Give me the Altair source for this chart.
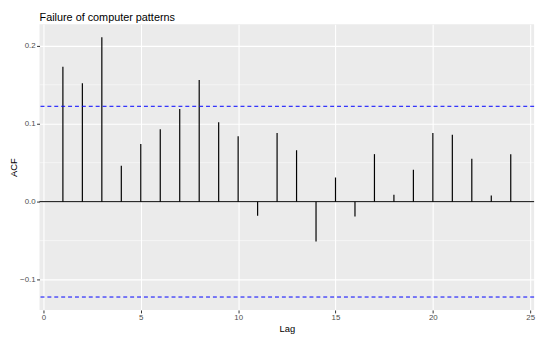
import altair as alt
import pandas as pd

lags = list(range(1, 25))
acf = [0.173, 0.152, 0.211, 0.046, 0.074, 0.093, 0.119, 0.156, 0.102, 0.084,
       -0.018, 0.088, 0.066, -0.051, 0.031, -0.019, 0.061, 0.009, 0.041, 0.088,
       0.086, 0.055, 0.008, 0.061]
ci = 0.1224
x_ticks = [0, 5, 10, 15, 20, 25]
y_ticks = [-0.1, 0.0, 0.1, 0.2]
y_minor = [-0.05, 0.05, 0.15]

FONT = "Liberation Sans"

df = pd.DataFrame({"lag": lags, "v": acf})
xs = alt.Scale(domain=[-0.2, 25.2], nice=False, zero=False)
ys = alt.Scale(domain=[-0.139, 0.2277], nice=False, zero=False)

axis_common = dict(
    grid=True, gridColor="white", gridWidth=1.1, domain=False,
    tickColor="#333333", tickSize=3, tickWidth=1,
    labelColor="#4D4D4D", labelFontSize=8, labelFont=FONT,
    titleFont=FONT, titleFontSize=9.5, titleFontWeight="normal", titleColor="black",
)
yaxis = alt.Axis(values=y_ticks, title="ACF", labelPadding=1.5,
                 titlePadding=1, format=".1f", **axis_common)
xaxis = alt.Axis(values=x_ticks, title="Lag", labelPadding=1,
                 titlePadding=2, format="d", **axis_common)

minor = alt.Chart(pd.DataFrame({"v": y_minor})).mark_rule(
    color="white", strokeWidth=0.5
).encode(y=alt.Y("v:Q", scale=ys, axis=yaxis))

bars = alt.Chart(df).mark_rule(color="black", strokeWidth=1.2).encode(
    x=alt.X("lag:Q", scale=xs, axis=xaxis),
    y=alt.Y("v:Q", scale=ys, axis=yaxis),
    y2=alt.datum(0),
)

zero = alt.Chart(pd.DataFrame({"v": [0.0]})).mark_rule(
    color="black", strokeWidth=1
).encode(y=alt.Y("v:Q", scale=ys, axis=yaxis))

cis = alt.Chart(pd.DataFrame({"v": [ci, -ci]})).mark_rule(
    color="#0000FF", strokeWidth=1, strokeDash=[4, 3]
).encode(y=alt.Y("v:Q", scale=ys, axis=yaxis))

chart = alt.layer(minor, bars, zero, cis).properties(
    width=502, height=290,
    title=alt.TitleParams("Failure of computer patterns", anchor="start",
                          fontSize=11, font=FONT, fontWeight="normal",
                          color="black", offset=1, frame="group"),
    autosize=alt.AutoSizeParams(type="none"),
    padding={"left": 32, "top": 14, "right": 8, "bottom": 28},
).configure_view(fill="#EBEBEB", stroke=None)

chart.save("out.html", embed_options={"renderer": "svg", "actions": False})
